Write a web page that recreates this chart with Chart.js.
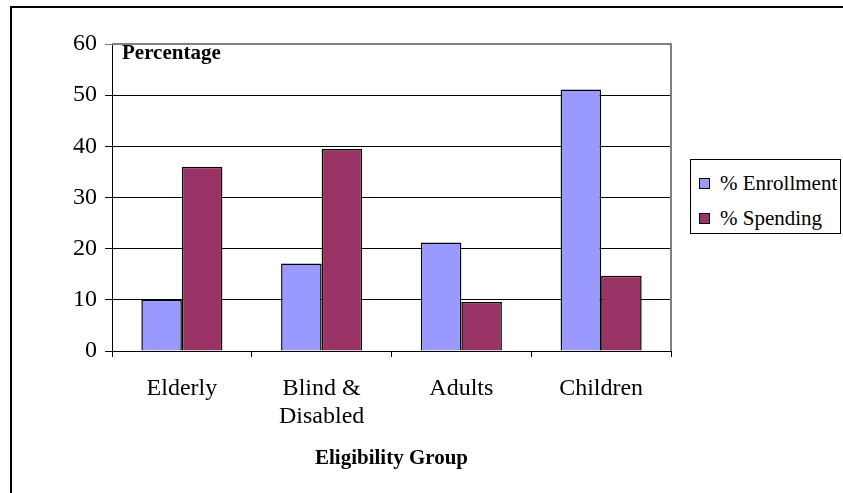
<!DOCTYPE html>
<html>
<head>
<meta charset="utf-8">
<script src="https://cdn.jsdelivr.net/npm/chart.js@4"></script>
<style>
    html, body { margin: 0; padding: 0; background: #fff; overflow: hidden; }
    #wrap { position: relative; width: 843px; height: 493px; }
    #frame { position: absolute; left: 10px; top: 6px; width: 900px; height: 600px; border: 2px solid #000; }
    #chart { position: absolute; left: 0; top: 0; }
    #legend { position: absolute; left: 690px; top: 159px; width: 149px; height: 73px; border: 1px solid #000; background: #fff;
              font-family: 'Liberation Serif', 'Times New Roman', serif; font-size: 21px; color: #000; }
    .item { position: absolute; left: 8px; height: 24px; line-height: 24px; display: flex; align-items: center; white-space: nowrap; }
    .swatch { width: 9px; height: 9px; border: 1px solid #000; margin-right: 10px; }
</style>
</head>
<body>
<div id="wrap">
    <div id="frame"></div>
    <canvas id="chart" width="843" height="493"></canvas>
    <div id="legend"></div>
</div>
<script>
const categories = ['Elderly', ['Blind &', 'Disabled'], 'Adults', 'Children'];
const enrollment = [10, 17.1, 21.2, 51.1];
const spending = [36, 39.5, 9.6, 14.7];
const seriesNames = ['% Enrollment', '% Spending'];
const seriesColors = ['#9999FF', '#993366'];
const yTicks = [0, 10, 20, 30, 40, 50, 60];

const FONT = "'Liberation Serif', 'Times New Roman', serif";

// gray frame on top/right of the plot + the "Percentage" note inside it
const plotDecor = {
    id: 'plotDecor',
    afterDraw(chart) {
        const { ctx, chartArea } = chart;
        ctx.save();
        ctx.strokeStyle = '#808080';
        ctx.lineWidth = 2;
        ctx.beginPath();
        ctx.moveTo(chartArea.left, chartArea.top);
        ctx.lineTo(chartArea.right, chartArea.top);
        ctx.lineTo(chartArea.right, chartArea.bottom);
        ctx.stroke();
        ctx.fillStyle = '#000';
        ctx.font = 'bold 21px ' + FONT;
        ctx.textBaseline = 'alphabetic';
        ctx.fillText('Percentage', chartArea.left + 10, 59);
        ctx.restore();
    }
};

const ctx = document.getElementById('chart').getContext('2d');
new Chart(ctx, {
    type: 'bar',
    data: {
        labels: categories,
        datasets: [
            { label: seriesNames[0], data: enrollment, backgroundColor: seriesColors[0], borderColor: '#000', borderWidth: 1.5 },
            { label: seriesNames[1], data: spending, backgroundColor: seriesColors[1], borderColor: '#000', borderWidth: 1.5 }
        ]
    },
    options: {
        responsive: false,
        animation: false,
        devicePixelRatio: 1,
        layout: { padding: { left: 0, right: 172, top: 44, bottom: 0 } },
        datasets: { bar: { categoryPercentage: 0.58, barPercentage: 1.0 } },
        plugins: { legend: { display: false }, tooltip: { enabled: false } },
        scales: {
            x: {
                grid: { offset: true, drawOnChartArea: false, color: '#000', tickLength: 6 },
                border: { color: '#000', width: 1 },
                ticks: { color: '#000', font: { family: FONT, size: 24, lineHeight: 1.2 }, padding: 17, maxRotation: 0 },
                title: { display: true, text: 'Eligibility Group', color: '#000',
                         font: { family: FONT, size: 21, weight: 'bold', lineHeight: 1.2 }, padding: { top: 0, bottom: 22 } },
                afterFit(scale) { scale.height = 142; }
            },
            y: {
                min: 0,
                max: 60,
                afterBuildTicks(scale) { scale.ticks = yTicks.map(v => ({ value: v })); },
                grid: { color: ctx => ctx.tick && ctx.tick.value === 60 ? '#808080' : '#000', tickLength: 7 },
                border: { color: '#000', width: 1 },
                ticks: { color: '#000', font: { family: FONT, size: 24 }, padding: 8 },
                afterFit(scale) { scale.width = 112; }
            }
        }
    },
    plugins: [plotDecor]
});

const legend = document.getElementById('legend');
const rowTops = [11, 46];
seriesNames.forEach((name, i) => {
    const row = document.createElement('div');
    row.className = 'item';
    row.style.top = rowTops[i] + 'px';
    row.innerHTML = `<span class="swatch" style="background:${seriesColors[i]}"></span><span>${name}</span>`;
    legend.appendChild(row);
});
</script>
</body>
</html>
